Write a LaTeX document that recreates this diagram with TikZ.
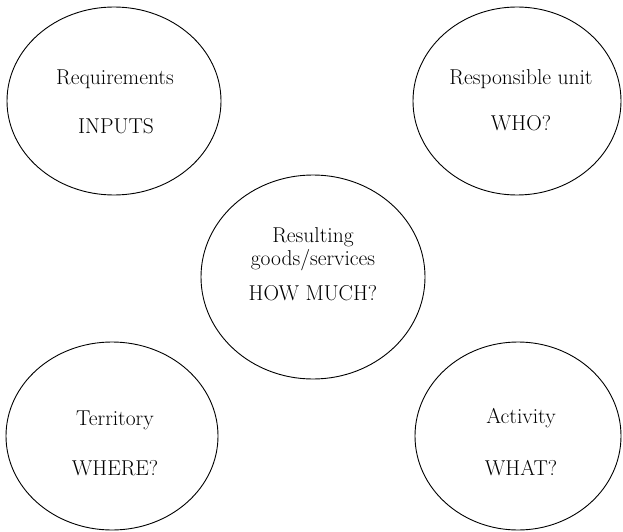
\documentclass[tikz,border=0pt]{standalone}
\usetikzlibrary{shapes.geometric}
\begin{document}
\begin{tikzpicture}[x=1pt,y=-1pt,
  oval/.style={draw, ellipse, line width=0.9pt, inner sep=0pt},
  txt/.style={font=\fontsize{21.5}{25}\selectfont, anchor=base, inner sep=0pt, text=black}]
\useasboundingbox (0,0) rectangle (623,532);
% ellipses
\node[oval, minimum width=214pt, minimum height=188pt] (req) at (114,101) {};
\node[oval, minimum width=208pt, minimum height=188pt] (resp) at (517,101) {};
\node[oval, minimum width=224pt, minimum height=204pt] (res) at (313,277) {};
\node[oval, minimum width=212pt, minimum height=188pt] (terr) at (112,436) {};
\node[oval, minimum width=206pt, minimum height=188pt] (act) at (518,436) {};
% texts
\node[txt] (t1a) at (115,85) {Requirements};
\node[txt] (t1b) at (116,133) {INPUTS};
\node[txt] (t2a) at (521,85) {Responsible unit};
\node[txt] (t2b) at (521,131) {WHO?};
\node[txt] (t3a) at (313,242) {Resulting};
\node[txt] (t3b) at (313,265) {goods/services};
\node[txt] (t3c) at (313,300) {HOW MUCH?};
\node[txt] (t4a) at (115,425) {Territory};
\node[txt] (t4b) at (115,475) {WHERE?};
\node[txt] (t5a) at (521,423) {Activity};
\node[txt] (t5b) at (521,475) {WHAT?};
\end{tikzpicture}
\end{document}
